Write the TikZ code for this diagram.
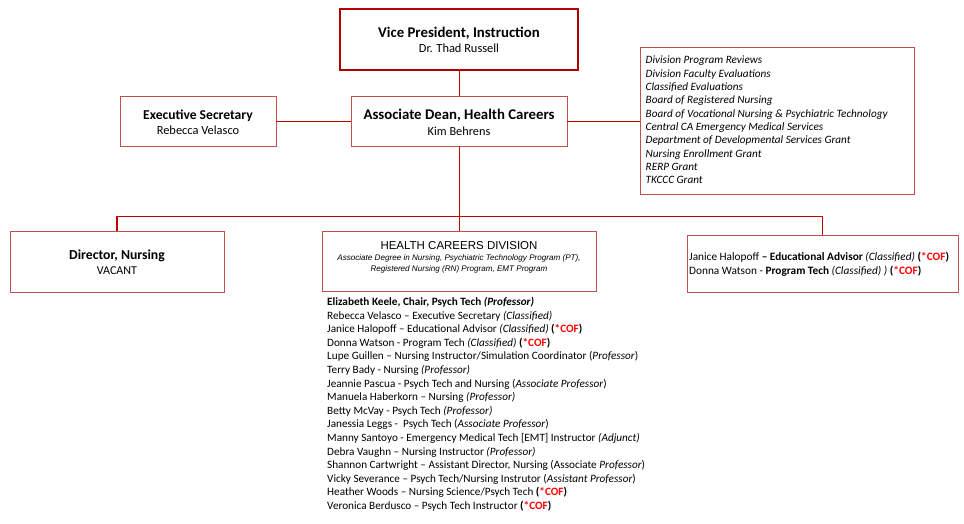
\documentclass[tikz,border=0pt]{standalone}
\usepackage{fontspec}
\setmainfont{Carlito}
\newfontfamily\arialf{Liberation Sans}
\definecolor{boxred}{HTML}{C0504D}
\definecolor{linered}{HTML}{C00000}
\definecolor{vpred}{HTML}{B00000}
\definecolor{cofred}{HTML}{FF0000}
\newcommand{\cofmark}{\textbf{(\textcolor{cofred}{*COF})}}
\begin{document}
\begin{tikzpicture}[x=1pt,y=-1pt,
  box/.style={draw=boxred, line width=0.8pt, fill=white, inner sep=0pt, align=center},
  txt/.style={inner sep=0pt, align=center},
  conn/.style={draw=linered, line width=0.9pt},
  busline/.style={draw=linered, line width=1.6pt}]
\useasboundingbox (0,0) rectangle (964,523);
% boxes
\node[box, draw=vpred, line width=2pt, minimum width=238pt, minimum height=61pt] (vp) at (459,39) {};
\node[txt] (vptxt) at (459,40)
  {{\fontsize{14.8}{16}\selectfont\bfseries Vice President, Instruction}\\[3.5pt]{\fontsize{12.4}{14}\selectfont Dr. Thad Russell}};
\node[box, minimum width=216pt, minimum height=50pt] (ad) at (459,121) {};
\node[txt] (adtxt) at (459,122)
  {{\fontsize{14.8}{16}\selectfont\bfseries Associate Dean, Health Careers}\\[4pt]{\fontsize{12.3}{14}\selectfont Kim Behrens}};
\node[box, minimum width=156pt, minimum height=50pt] (es) at (198,121) {};
\node[txt] (estxt) at (198,122.5)
  {{\fontsize{13.6}{15}\selectfont\bfseries Executive Secretary}\\[2.5pt]{\fontsize{12.4}{14}\selectfont Rebecca Velasco}};
\node[box, minimum width=274pt, minimum height=147pt] (resp) at (777,120.5) {};
\node[anchor=north west, inner sep=0pt, align=left, font=\fontsize{11.2}{13.3}\selectfont\itshape] (resptxt) at (645.5,56)
  {Division Program Reviews\\ Division Faculty Evaluations\\ Classified Evaluations\\ Board of Registered Nursing\\
   Board of Vocational Nursing \& Psychiatric Technology\\ Central CA Emergency Medical Services\\
   Department of Developmental Services Grant\\ Nursing Enrollment Grant\\ RERP Grant\\ TKCCC Grant};
\node[box, minimum width=214pt, minimum height=61pt] (dir) at (117,261.5) {};
\node[txt] (dirtxt) at (117,262)
  {{\fontsize{13.7}{15}\selectfont\bfseries Director, Nursing}\\[2.5pt]{\fontsize{12}{14}\selectfont VACANT}};
\node[box, minimum width=274pt, minimum height=60pt] (hcd) at (459,261) {};
\node[txt, font=\arialf] (hcdtxt) at (459,257)
  {{\fontsize{11.5}{13}\selectfont HEALTH CAREERS DIVISION}\\[-1pt]
   {\itshape\fontsize{8.1}{12}\selectfont Associate Degree in Nursing, Psychiatric Technology Program (PT),}\\[-1pt]
   {\itshape\fontsize{8.1}{12}\selectfont Registered Nursing (RN) Program, EMT Program}};
\node[box, minimum width=271pt, minimum height=57pt] (cofbox) at (822.5,263.5) {};
\node[anchor=west, inner sep=0pt, align=left, font=\fontsize{11.3}{14}\selectfont] (coftxt) at (689,264)
  {Janice Halopoff \textbf{– Educational Advisor} \textit{(Classified)} \cofmark\\
   Donna Watson - \textbf{Program Tech} \textit{(Classified) )} \cofmark};
% staff list
\node[anchor=north west, inner sep=0pt, align=left, font=\fontsize{11.2}{13.6}\selectfont] (staff) at (327,297)
  {\textbf{Elizabeth Keele, Chair, Psych Tech \textit{(Professor)}}\\
   Rebecca Velasco – Executive Secretary \textit{(Classified)}\\
   Janice Halopoff – Educational Advisor \textit{(Classified)} \cofmark\\
   Donna Watson - Program Tech \textit{(Classified)} \cofmark\\
   Lupe Guillen – Nursing Instructor/Simulation Coordinator (\textit{Professor})\\
   Terry Bady - Nursing \textit{(Professor)}\\
   Jeannie Pascua - Psych Tech and Nursing (\textit{Associate Professor})\\
   Manuela Haberkorn – Nursing \textit{(Professor)}\\
   Betty McVay - Psych Tech \textit{(Professor)}\\
   Janessia Leggs -\ \ Psych Tech (\textit{Associate Professor})\\
   Manny Santoyo - Emergency Medical Tech [EMT] Instructor \textit{(Adjunct)}\\
   Debra Vaughn – Nursing Instructor \textit{(Professor)}\\
   Shannon Cartwright – Assistant Director, Nursing (Associate \textit{Professor})\\
   Vicky Severance – Psych Tech/Nursing Instrutor (\textit{Assistant Professor})\\
   Heather Woods – Nursing Science/Psych Tech \cofmark\\
   Veronica Berdusco – Psych Tech Instructor \cofmark};
% connectors
\draw[conn] (vp.south) -- (ad.north);
\draw[conn] (es.east) -- (ad.west);
\draw[conn] (ad.east) -- (ad.east -| resp.west);
\draw[conn] (ad.south) -- (hcd.north);
\draw[busline] (dir.north) -- ++(0,-14) -| (cofbox.north);
\end{tikzpicture}
\end{document}
